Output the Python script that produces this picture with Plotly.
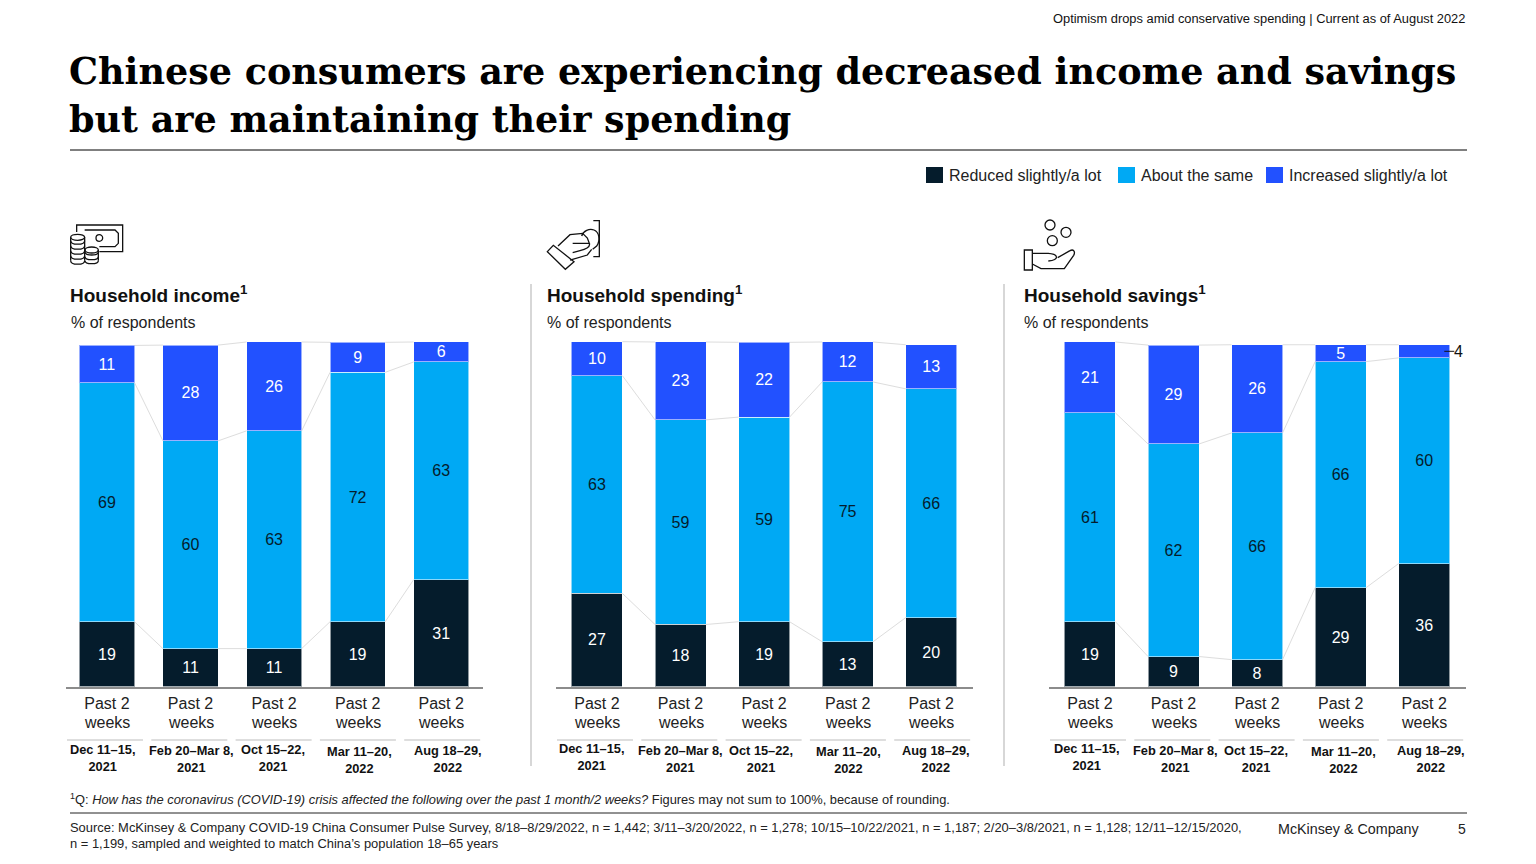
import plotly.graph_objects as go

# ---- data ----
PERIOD_LINE1 = ["Past 2"] * 5
PERIOD_LINE2 = ["weeks"] * 5
DATES = ["Dec 11–15,<br>2021", "Feb 20–Mar 8,<br>2021", "Oct 15–22,<br>2021", "Mar 11–20,<br>2022", "Aug 18–29,<br>2022"]
SERIES_NAMES = ["Reduced slightly/a lot", "About the same", "Increased slightly/a lot"]
COLORS = ["#051C2C", "#00A9F4", "#2251FF"]
LABEL_COLORS = ["#FFFFFF", "#051C2C", "#FFFFFF"]

income_reduced = [18.8, 11.0, 11.0, 18.8, 31.0]
income_same = [69.4, 60.3, 63.2, 72.4, 63.2]
income_increased = [10.8, 27.8, 25.8, 8.7, 5.8]

spending_reduced = [27.0, 18.0, 18.8, 13.0, 20.0]
spending_same = [63.2, 59.4, 59.4, 75.4, 66.4]
spending_increased = [9.9, 22.6, 21.7, 11.6, 12.8]

savings_reduced = [18.8, 8.7, 7.8, 28.7, 35.7]
savings_same = [60.6, 61.7, 65.8, 65.6, 59.7]
savings_increased = [20.6, 28.7, 25.6, 4.9, 3.8]

PANEL_TITLES = ["Household income<sup>1</sup>", "Household spending<sup>1</sup>", "Household savings<sup>1</sup>"]

W, H = 1536, 864
SANS = "Liberation Sans"
SERIF = "DejaVu Serif"
INK = "#222222"
GREY = "#BDBDBD"


def px(x):
    return x / W


def py(y):
    return 1 - y / H


def note(x, y, s, size=16, anchor="left", color=INK, family=SANS, align=None):
    return dict(x=px(x), y=py(y), xref="paper", yref="paper", text=s, showarrow=False,
                xanchor=anchor, yanchor="middle", align=align or anchor,
                font=dict(size=size, color=color, family=family), borderpad=0)


def hline(x0, x1, y, color, width):
    return dict(type="line", xref="paper", yref="paper", x0=px(x0), x1=px(x1), y0=py(y), y1=py(y),
                line=dict(color=color, width=width))


def vline(x, y0, y1, color, width):
    return dict(type="line", xref="paper", yref="paper", x0=px(x), x1=px(x), y0=py(y0), y1=py(y1),
                line=dict(color=color, width=width))


def icon_path(cmds, ox, oy, closed=False, width=1.3):
    """cmds: list of (letter, x, y, ...) in 3x crop coordinates."""
    out = []
    for c in cmds:
        pts = c[1:]
        seg = c[0]
        for i in range(0, len(pts), 2):
            seg += f" {px(ox + pts[i] / 3):.5f},{py(oy + pts[i + 1] / 3):.5f}"
        out.append(seg)
    d = " ".join(out) + (" Z" if closed else "")
    return dict(type="path", xref="paper", yref="paper", path=d, line=dict(color="#111111", width=width))


def circle(cx, cy, r, ox, oy, rx=None, width=1.3):
    rx = rx if rx is not None else r
    return dict(type="circle", xref="paper", yref="paper",
                x0=px(ox + (cx - rx) / 3), x1=px(ox + (cx + rx) / 3),
                y0=py(oy + (cy - r) / 3), y1=py(oy + (cy + r) / 3),
                line=dict(color="#111111", width=width))


panels = [
    dict(vals=[income_reduced, income_same, income_increased], ax=(66, 483), w=0.66,
         title_x=69, date_x=[102.5, 191.5, 272.5, 359, 447.5], date_y=[757.5, 759, 758, 760, 758.5], sep0=67),
    dict(vals=[spending_reduced, spending_same, spending_increased], ax=(556, 973), w=0.61,
         title_x=545.5, date_x=[591, 680, 761, 848, 936], date_y=[757, 758.5, 758.5, 759.5, 758.5], sep0=557),
    dict(vals=[savings_reduced, savings_same, savings_increased], ax=(1049, 1466), w=0.61,
         title_x=1022.5, date_x=[1086, 1175, 1256, 1343, 1431], date_y=[757, 758.5, 758.5, 759.5, 758.5], sep0=1050),
]

fig = go.Figure()
annotations, shapes = [], []
layout_axes = {}
Y_BASE, Y_100 = 686.5, 342
y_top_px = Y_100 - 3.45  # room for 101 on the axis

for p, panel in enumerate(panels):
    suffix = "" if p == 0 else str(p + 1)
    xa, ya = "x" + suffix, "y" + suffix
    xs = list(range(5))
    w = panel["w"]
    base = [0.0] * 5
    levels = []
    for s, vals in enumerate(panel["vals"]):
        labels = [f"{v:.0f}" if v >= 4.5 else None for v in vals]
        fig.add_trace(go.Bar(x=xs, y=vals, width=w, name=SERIES_NAMES[s], xaxis=xa, yaxis=ya,
                             marker=dict(color=COLORS[s], line=dict(color="rgba(255,255,255,0.55)", width=1)),
                             text=labels, textposition="inside", insidetextanchor="middle", textangle=0,
                             constraintext="none",
                             textfont=dict(size=16, color=LABEL_COLORS[s], family=SANS),
                             showlegend=False, hoverinfo="name+y"))
        base = [b + v for b, v in zip(base, vals)]
        levels.append(list(base))
    # connectors between the bars
    cx, cy = [], []
    for lev in levels:
        for i in range(4):
            cx += [i + w / 2, i + 1 - w / 2, None]
            cy += [lev[i], lev[i + 1], None]
    fig.add_trace(go.Scatter(x=cx, y=cy, mode="lines", xaxis=xa, yaxis=ya, showlegend=False, hoverinfo="skip",
                             line=dict(color="#DDDDDD", width=1)))
    layout_axes["xaxis" + suffix] = dict(domain=[px(panel["ax"][0]), px(panel["ax"][1])], range=[-0.49, 4.5],
                                         tickmode="array", tickvals=xs, ticktext=PERIOD_LINE1,
                                         ticks="outside", ticklen=2, tickcolor="rgba(0,0,0,0)",
                                         showgrid=False, zeroline=False, showline=True, linecolor="#8C8C8C",
                                         linewidth=1.5, tickfont=dict(size=16, color=INK, family=SANS),
                                         anchor=ya, fixedrange=True)
    layout_axes["yaxis" + suffix] = dict(domain=[py(Y_BASE), py(y_top_px)], range=[0, 101], visible=False,
                                         anchor=xa, fixedrange=True)
    annotations.append(note(panel["title_x"], 294.5, f"<b>{PANEL_TITLES[p]}</b>", size=19, color="#111111"))
    annotations.append(note(panel["title_x"] + 0.5, 322.5, "% of respondents", size=16))
    for i in xs:
        annotations.append(dict(x=i, y=py(722), xref=xa, yref="paper", text=PERIOD_LINE2[i], showarrow=False,
                                xanchor="center", yanchor="middle", borderpad=0,
                                font=dict(size=16, color=INK, family=SANS)))
    for i, d in enumerate(DATES):
        annotations.append(note(panel["date_x"][i], panel["date_y"][i], f"<b>{d}</b>", size=12.8,
                                anchor="center", color="#111111"))
        shapes.append(hline(panel["sep0"] + 84.3 * i, panel["sep0"] + 84.3 * i + 76, 740, GREY, 1.2))

# leader and label for the bar segment too thin to hold its value
thin = savings_reduced[4] + savings_same[4] + savings_increased[4] / 2
fig.add_trace(go.Scatter(x=[4.24, 4.36], y=[thin, thin], mode="lines", xaxis="x3", yaxis="y3", showlegend=False,
                         hoverinfo="skip", line=dict(color="#111111", width=1)))
annotations.append(dict(x=4.41, y=thin, xref="x3", yref="y3", text="4", showarrow=False, xanchor="center",
                        yanchor="middle", font=dict(size=16, color="#111111", family=SANS)))

# headline and page furniture
annotations += [
    note(1466, 18, "Optimism drops amid conservative spending | Current as of August 2022", size=12.85, anchor="right", color="#111111"),
    note(68, 71, "<b>Chinese consumers are experiencing decreased income and savings</b>", size=36.5, color="#000000", family=SERIF),
    note(68, 119, "<b>but are maintaining their spending</b>", size=36.5, color="#000000", family=SERIF),
    note(948, 175.5, SERIES_NAMES[0], size=16),
    note(1140, 175.5, SERIES_NAMES[1], size=16),
    note(1288, 175.5, SERIES_NAMES[2], size=16),
    note(69, 799, "<sup>1</sup>Q: <i>How has the coronavirus (COVID-19) crisis affected the following over the past 1 month/2 weeks?</i> Figures may not sum to 100%, because of rounding.", size=12.87),
    note(69, 827.5, "Source: McKinsey & Company COVID-19 China Consumer Pulse Survey, 8/18–8/29/2022, n = 1,442; 3/11–3/20/2022, n = 1,278; 10/15–10/22/2021, n = 1,187; 2/20–3/8/2021, n = 1,128; 12/11–12/15/2020,", size=12.93),
    note(69, 843.5, "n = 1,199, sampled and weighted to match China’s population 18–65 years", size=12.93),
    note(1277, 829, "McKinsey & Company", size=14.3),
    note(1467, 829, "5", size=14, anchor="right"),
]

shapes += [hline(70, 1467, 150, "#000000", 1), hline(70, 1467, 813, "#222222", 1),
           vline(531, 284, 766, GREY, 1.2), vline(1004, 284, 766, GREY, 1.2)]
for x0, color in zip([926, 1118, 1266], COLORS):
    shapes.append(dict(type="rect", xref="paper", yref="paper", x0=px(x0), x1=px(x0 + 17), y0=py(167), y1=py(183),
                       fillcolor=color, line=dict(width=0)))

# icon: money
O = (50, 210)
shapes += [
    icon_path([("M", 80, 66), ("L", 80, 45), ("L", 218, 45), ("L", 218, 125), ("L", 148, 125)], *O),
    icon_path([("M", 104, 60), ("L", 195, 60), ("L", 205, 70), ("L", 205, 100), ("L", 195, 110), ("L", 148, 110)], *O),
    circle(148, 84, 10, *O),
    circle(83, 82, 9, *O, rx=21),
]
for yy in (98, 113, 128, 143, 158):
    shapes.append(icon_path([("M", 62, yy - 6), ("C", 62, yy + 8, 104, yy + 8, 104, yy - 6)], *O))
shapes += [icon_path([("M", 62, 82), ("L", 62, 152)], *O), icon_path([("M", 104, 82), ("L", 104, 152)], *O)]
shapes.append(circle(125, 120, 9, *O, rx=20))
for yy in (134, 148, 160):
    shapes.append(icon_path([("M", 105, yy - 8), ("C", 105, yy + 4, 145, yy + 4, 145, yy - 8)], *O))
shapes += [icon_path([("M", 145, 120), ("L", 145, 152)], *O)]

# icon: hand paying
O = (530, 210)
shapes += [
    icon_path([("M", 190, 32), ("L", 208, 32), ("L", 208, 140), ("L", 190, 140)], *O),
    icon_path([("M", 155, 78), ("C", 160, 62, 178, 55, 192, 60), ("C", 208, 66, 212, 92, 200, 108), ("L", 188, 118)], *O),
    icon_path([("M", 52, 125), ("L", 70, 106), ("L", 132, 155), ("L", 106, 178)], *O, closed=True),
    icon_path([("M", 84, 108), ("L", 120, 74), ("L", 158, 70), ("L", 172, 84), ("L", 178, 100), ("L", 128, 100)], *O),
    icon_path([("M", 178, 100), ("C", 182, 112, 165, 118, 150, 122), ("L", 128, 128), ("M", 185, 118), ("L", 172, 135), ("L", 120, 150)], *O),
]

# icon: hand receiving
O = (1005, 210)
shapes += [
    circle(135, 45, 15, *O), circle(183, 67, 15, *O), circle(142, 92, 15, *O),
    dict(type="rect", xref="paper", yref="paper", x0=px(O[0] + 58 / 3), x1=px(O[0] + 82 / 3),
         y0=py(O[1] + 120 / 3), y1=py(O[1] + 180 / 3), line=dict(color="#111111", width=1.3)),
    icon_path([("M", 82, 130), ("L", 130, 130), ("C", 160, 132, 165, 150, 130, 153)], *O),
    icon_path([("M", 158, 143), ("L", 195, 122), ("C", 205, 116, 212, 125, 206, 136), ("L", 178, 176), ("L", 108, 176), ("L", 82, 162)], *O),
]

fig.update_layout(width=W, height=H, margin=dict(l=0, r=0, t=0, b=0), paper_bgcolor="white", plot_bgcolor="white",
                  barmode="stack", showlegend=False, annotations=annotations, shapes=shapes,
                  font=dict(family=SANS), **layout_axes)

fig.write_html("out.html", config=dict(displayModeBar=False),
               post_script="document.body.style.margin='0';document.body.style.overflow='hidden';")
